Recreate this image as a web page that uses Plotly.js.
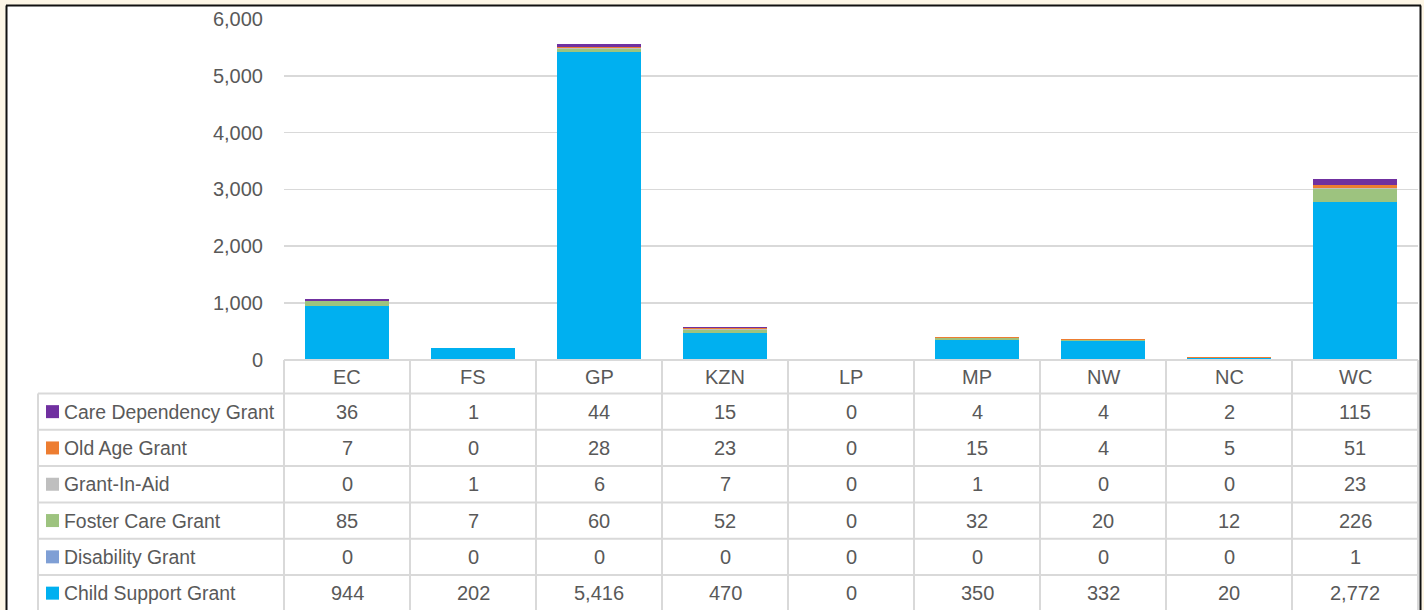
<!DOCTYPE html>
<html>
<head>
<meta charset="utf-8">
<script src="https://cdn.plot.ly/plotly-3.0.1.min.js"></script>
<style>html,body{margin:0;padding:0;background:#fdf6e6;}#chart{width:1424px;height:610px;}</style>
</head>
<body>
<div id="chart"></div>
<script>
const regions = ["EC","FS","GP","KZN","LP","MP","NW","NC","WC"];
const seriesNames = ["Care Dependency Grant","Old Age Grant","Grant-In-Aid","Foster Care Grant","Disability Grant","Child Support Grant"];
const careDependency = [36,1,44,15,0,4,4,2,115];
const oldAge = [7,0,28,23,0,15,4,5,51];
const grantInAid = [0,1,6,7,0,1,0,0,23];
const fosterCare = [85,7,60,52,0,32,20,12,226];
const disability = [0,0,0,0,0,0,0,0,1];
const childSupport = [944,202,5416,470,0,350,332,20,2772];
const colors = ["#7030a0","#ed7d31","#bfbfbf","#9dc37f","#7f9fd5","#00b0f0"];
const yTicks = [0,1000,2000,3000,4000,5000,6000];

const seriesValues = [careDependency, oldAge, grantInAid, fosterCare, disability, childSupport];

const W = 1424, H = 610;
const px = v => v / W;
const py = v => 1 - v / H;

// stack order: bottom first
const traces = [];
for (let i = seriesNames.length - 1; i >= 0; i--) {
  traces.push({
    type: 'bar',
    name: seriesNames[i],
    x: regions,
    y: seriesValues[i],
    marker: {color: colors[i], line: {width: 0}},
    hoverinfo: 'x+y+name'
  });
}

const font = {family: 'Liberation Sans, Arial, sans-serif', size: 20, color: '#595959'};
const labelFont = {family: 'Liberation Sans, Arial, sans-serif', size: 19.4, color: '#595959'};
const gridC = '#d9d9d9';

const tableLeft = 38, axisLeft = 284, axisRight = 1418;
const headerTop = 360, rowTops = [393.5, 429.8, 466.1, 502.4, 538.7, 575.0], tableBottom = 611.3;

const shapes = [];
// white frame background
shapes.push({type:'rect', xref:'paper', yref:'paper', x0:px(6), x1:px(1420.5), y0:py(612), y1:py(5.5), fillcolor:'#ffffff', line:{width:0}, layer:'below'});
// frame border
shapes.push({type:'line', xref:'paper', yref:'paper', x0:px(6.5), x1:px(6.5), y0:py(612), y1:py(5.5), line:{color:'#111', width:2}});
shapes.push({type:'line', xref:'paper', yref:'paper', x0:px(6), x1:px(1421), y0:py(5.5), y1:py(5.5), line:{color:'#111', width:2}});
shapes.push({type:'line', xref:'paper', yref:'paper', x0:px(1420.5), x1:px(1420.5), y0:py(612), y1:py(5.5), line:{color:'#111', width:2}});

// table horizontal lines
shapes.push({type:'line', xref:'paper', yref:'paper', x0:px(axisLeft), x1:px(axisRight), y0:py(headerTop), y1:py(headerTop), line:{color:gridC, width:2}});
rowTops.forEach(t => shapes.push({type:'line', xref:'paper', yref:'paper', x0:px(tableLeft), x1:px(axisRight), y0:py(t), y1:py(t), line:{color:gridC, width:2}}));
// vertical lines
shapes.push({type:'line', xref:'paper', yref:'paper', x0:px(tableLeft), x1:px(tableLeft), y0:py(rowTops[0]), y1:py(tableBottom), line:{color:gridC, width:2}});
for (let k = 0; k <= regions.length; k++) {
  const x = axisLeft + k * (axisRight - axisLeft) / regions.length;
  shapes.push({type:'line', xref:'paper', yref:'paper', x0:px(x), x1:px(x), y0:py(headerTop), y1:py(tableBottom), line:{color:gridC, width:2}});
}

const annotations = [];
// header row
regions.forEach(r => annotations.push({xref:'x', yref:'paper', x:r, y:py((headerTop + rowTops[0]) / 2), text:r, showarrow:false, font:font, xanchor:'center', yanchor:'middle'}));
// rows
seriesNames.forEach((name, i) => {
  const top = rowTops[i];
  const bottom = i < rowTops.length - 1 ? rowTops[i + 1] : tableBottom;
  const cy = (top + bottom) / 2;
  // legend key square
  shapes.push({type:'rect', xref:'paper', yref:'paper', x0:px(46), x1:px(59), y0:py(cy + 6.5), y1:py(cy - 6.5), fillcolor:colors[i], line:{width:0}});
  annotations.push({xref:'paper', yref:'paper', x:px(62), y:py(cy), text:name, showarrow:false, font:labelFont, xanchor:'left', yanchor:'middle'});
  seriesValues[i].forEach((v, j) => {
    annotations.push({xref:'x', yref:'paper', x:regions[j], y:py(cy), text:v.toLocaleString('en-US'), showarrow:false, font:font, xanchor:'center', yanchor:'middle'});
  });
});

const layout = {
  width: W, height: H,
  margin: {l:0, r:0, t:0, b:0},
  paper_bgcolor: '#fdf6e6',
  plot_bgcolor: 'rgba(0,0,0,0)',
  barmode: 'stack',
  bargap: 0.336,
  showlegend: false,
  font: font,
  xaxis: {
    domain: [px(axisLeft), px(axisRight)],
    range: [-0.5, 8.5],
    type: 'category',
    showticklabels: false, showgrid: false, zeroline: false, showline: false, ticks: ''
  },
  yaxis: {
    domain: [py(359.5), py(19)],
    range: [0, 6000],
    tickvals: yTicks,
    tickformat: ',d',
    showgrid: true, gridcolor: gridC, gridwidth: 1.5,
    zeroline: false, showline: false, ticks: '',
    ticklabelstandoff: 20,
    tickfont: font
  },
  shapes: shapes,
  annotations: annotations
};

Plotly.newPlot('chart', traces, layout, {displayModeBar: false, staticPlot: true});
</script>
</body>
</html>
